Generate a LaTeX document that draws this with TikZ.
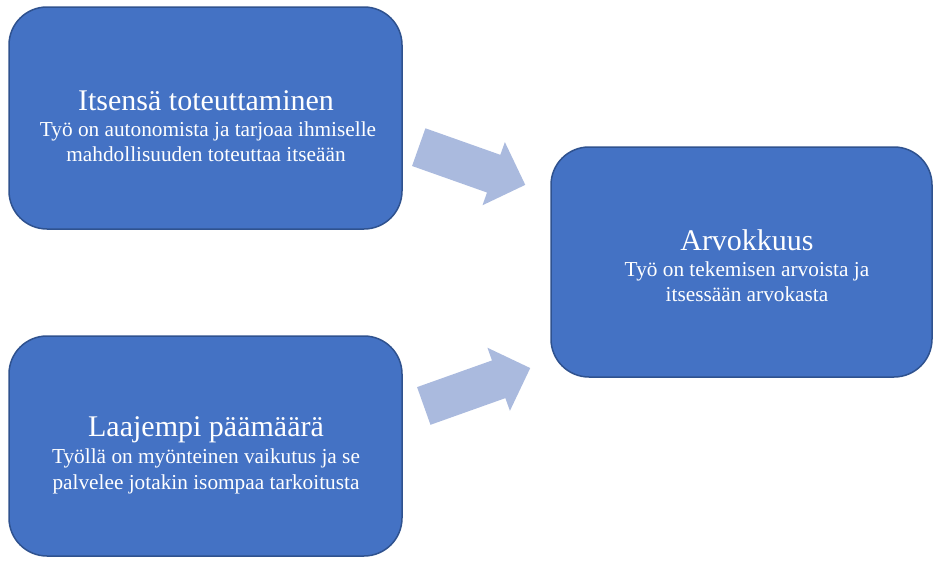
\documentclass[tikz,border=0pt]{standalone}
\usepackage{fontspec}
\setmainfont{Liberation Serif}
\definecolor{boxfill}{RGB}{68,114,196}
\definecolor{boxline}{RGB}{47,82,143}
\definecolor{arrfill}{RGB}{170,186,222}
\begin{document}
\begin{tikzpicture}[x=1pt,y=-1pt,
  card/.style={draw=boxline, line width=1.5pt, fill=boxfill, rounded corners=38pt, inner sep=0pt},
  ttl/.style={text=white, anchor=base, inner sep=0pt, font=\fontsize{30}{36}\selectfont},
  sub/.style={text=white, anchor=base, inner sep=0pt, font=\fontsize{21.3}{25}\selectfont},
  blockarrow/.style={fill=arrfill, draw=none}]
\useasboundingbox (0,0) rectangle (934,562);
% boxes
\node[card, minimum width=393pt, minimum height=222pt] (b1) at (205.5,118) {};
\node[card, minimum width=393pt, minimum height=220pt] (b2) at (205.5,446) {};
\node[card, minimum width=381pt, minimum height=230pt] (b3) at (741.5,262) {};
% block arrows
\begin{scope}[shift={(472,166)}, rotate=-19.5]
  \fill[blockarrow] (-56.5,-20) -- (23,-20) -- (23,-33.5) -- (56.5,0) -- (23,33.5) -- (23,20) -- (-56.5,20) -- cycle;
\end{scope}
\begin{scope}[shift={(477,387)}, rotate=19.6]
  \fill[blockarrow] (-56.5,-20) -- (23,-20) -- (23,-33.5) -- (56.5,0) -- (23,33.5) -- (23,20) -- (-56.5,20) -- cycle;
\end{scope}
% texts
\node[ttl] (t1a) at (206,110) {Itsensä toteuttaminen};
\node[sub] (t1b) at (208,136) {Työ on autonomista ja tarjoaa ihmiselle};
\node[sub] (t1c) at (206,161) {mahdollisuuden toteuttaa itseään};
\node[ttl] (t2a) at (206,436) {Laajempi päämäärä};
\node[sub] (t2b) at (206,463) {Työllä on myönteinen vaikutus ja se};
\node[sub] (t2c) at (206,489) {palvelee jotakin isompaa tarkoitusta};
\node[ttl] (t3a) at (747,250) {Arvokkuus};
\node[sub] (t3b) at (747,276) {Työ on tekemisen arvoista ja};
\node[sub] (t3c) at (747,301) {itsessään arvokasta};
\end{tikzpicture}
\end{document}
